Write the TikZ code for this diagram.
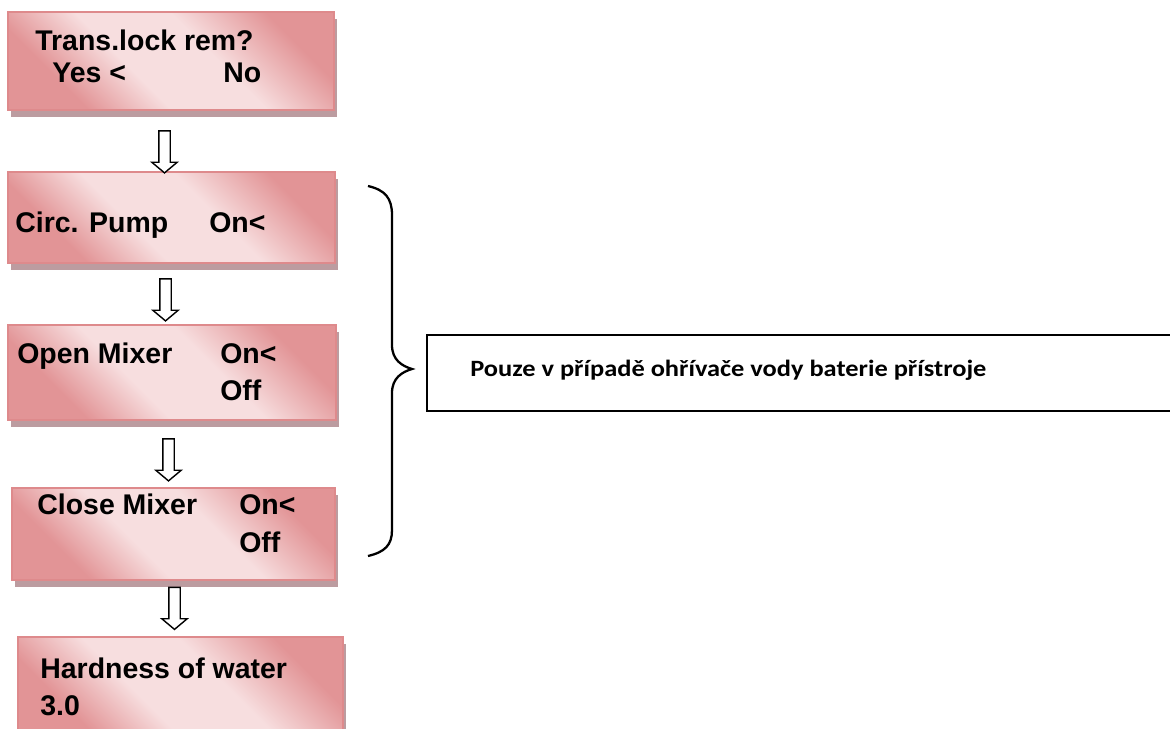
\documentclass[tikz,border=0pt]{standalone}
\usepackage{fontspec}
\setmainfont{Liberation Sans}
\newfontfamily\notefont[FakeStretch=1.13]{Carlito}
\usetikzlibrary{shapes.arrows,shadows}
\definecolor{boxdark}{RGB}{226,148,150}
\definecolor{boxlight}{RGB}{247,222,223}
\definecolor{boxedge}{RGB}{222,138,140}
\definecolor{boxshadow}{RGB}{188,156,160}
\pgfdeclarehorizontalshading{boxshade}{100bp}{color(0bp)=(boxdark); color(28bp)=(boxdark);
  color(42bp)=(boxlight); color(58bp)=(boxlight); color(74bp)=(boxdark); color(100bp)=(boxdark)}
\tikzset{
  menubox/.style={draw=boxedge, line width=1.3pt, outer sep=0pt, shading=boxshade, shading angle=45,
    drop shadow={shadow xshift=0.06cm, shadow yshift=-0.14cm, fill=boxshadow, opacity=1}},
  menutext/.style={anchor=base west, inner sep=0pt, font=\bfseries\fontsize{16.2}{19}\selectfont},
  downarrow/.style={draw, line width=0.8pt, fill=white, single arrow, rotate=-90,
    minimum height=0.84cm, minimum width=0.48cm, inner xsep=0pt, inner ysep=0.1cm,
    single arrow head extend=0.14cm, single arrow tip angle=100},
}
\begin{document}
\begin{tikzpicture}[x=0.02cm, y=-0.02cm]
  \useasboundingbox (0,0) rectangle (1170,729);

  \node[menubox, minimum width=6.52cm, minimum height=1.96cm] (b1) at (171,61) {};
  \node[menubox, minimum width=6.54cm, minimum height=1.82cm] (b2) at (171.5,217.5) {};
  \node[menubox, minimum width=6.56cm, minimum height=1.90cm] (b3) at (172,372.5) {};
  \node[menubox, minimum width=6.46cm, minimum height=1.84cm] (b4) at (173.5,534) {};
  \node[menubox, minimum width=6.50cm, minimum height=2.06cm] (b5) at (180.5,688.5) {};

  \node[menutext] (t1) at (35,51) {Trans.lock rem?};
  \node[menutext] (t1y) at (52,83) {Yes <};
  \node[menutext] (t1n) at (223,83) {No};
  \node[menutext] (t2) at (15,233) {Circ. Pump};
  \node[menutext] (t2on) at (209,233) {On<};
  \node[menutext] (t3) at (17,364) {Open Mixer};
  \node[menutext] (t3on) at (220,364) {On<};
  \node[menutext] (t3off) at (220,401) {Off};
  \node[menutext] (t4) at (37,515) {Close Mixer};
  \node[menutext] (t4on) at (239,515) {On<};
  \node[menutext] (t4off) at (239,552) {Off};
  \node[menutext] (t5) at (40,678) {Hardness of water};
  \node[menutext] (t5v) at (40,715) {3.0};

  \node[downarrow] (a1) at (164.5,149.5) {};
  \node[downarrow] (a2) at (165.5,297.5) {};
  \node[downarrow] (a3) at (168.5,457.5) {};
  \node[downarrow] (a4) at (174.5,606) {};

  % brace and note
  \draw[line width=1.3pt] (368,186) .. controls (385,190) and (392,198) .. (392,215)
    -- (392,345) .. controls (392,360) and (402,366) .. (412,369)
    .. controls (402,372) and (392,378) .. (392,393)
    -- (392,530) .. controls (392,545) and (385,552) .. (368,556);
  \node[draw, line width=1.2pt, minimum width=15.06cm, minimum height=1.52cm, outer sep=0pt] (note) at (803.5,373) {};
  \node[anchor=base west, inner sep=0pt, font=\notefont\bfseries\fontsize{13.3}{16}\selectfont] (notetext) at (470,377)
    {Pouze v případě ohřívače vody baterie přístroje};
\end{tikzpicture}
\end{document}
